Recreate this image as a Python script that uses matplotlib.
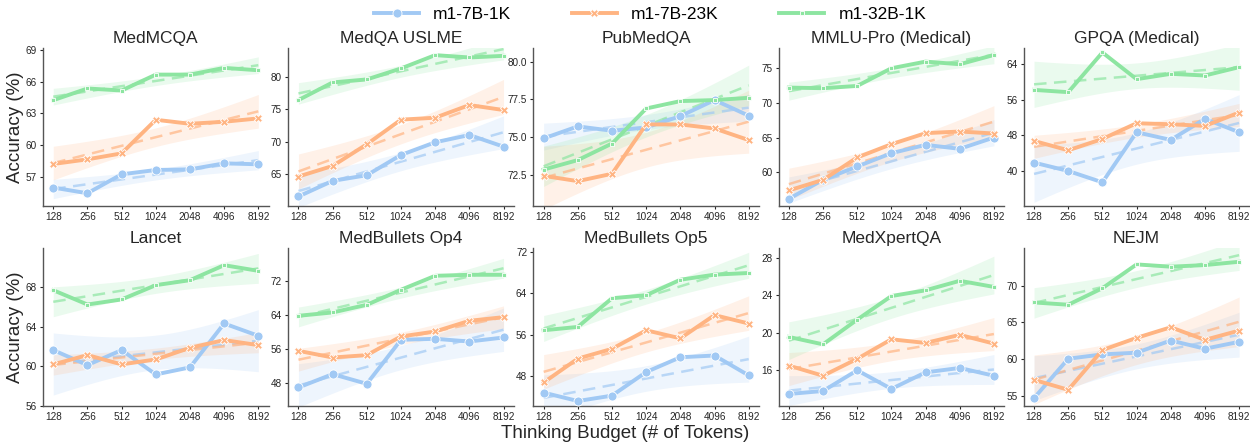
import matplotlib.pyplot as plt
import numpy as np

plt.rcParams['font.family'] = ['Liberation Sans', 'DejaVu Sans']

budgets = ['128', '256', '512', '1024', '2048', '4096', '8192']
models = ['m1-7B-1K', 'm1-7B-23K', 'm1-32B-1K']
colors = ['#a1c9f4', '#ffb482', '#8de5a1']
markers = ['o', 'X', 's']
marker_sizes = [6.5, 6, 3.5]

# accuracy per benchmark: one list per model (7B-1K, 7B-23K, 32B-1K)
medmcqa = [[55.96, 55.42, 57.22, 57.63, 57.69, 58.26, 58.17],
           [58.20, 58.64, 59.21, 62.40, 62.02, 62.21, 62.53],
           [64.26, 65.37, 65.18, 66.69, 66.69, 67.33, 67.10]]
medqa = [[61.58, 63.98, 64.85, 67.97, 69.92, 71.04, 69.25],
         [64.65, 66.28, 69.61, 73.40, 73.70, 75.65, 74.88],
         [76.42, 79.13, 79.59, 81.28, 83.33, 82.97, 83.22]]
pubmedqa = [[74.90, 75.70, 75.41, 75.63, 76.38, 77.45, 76.41],
            [72.41, 72.06, 72.55, 75.83, 75.83, 75.56, 74.79],
            [72.83, 73.46, 74.56, 76.89, 77.38, 77.45, 77.60]]
mmlu_pro = [[56.15, 58.89, 60.82, 62.74, 63.94, 63.37, 65.00],
            [57.36, 58.89, 62.12, 64.04, 65.63, 65.87, 65.58],
            [72.21, 72.12, 72.45, 75.00, 75.96, 75.58, 76.92]]
gpqa = [[41.80, 39.92, 37.36, 48.65, 46.92, 51.66, 48.65],
        [46.69, 44.58, 47.14, 50.68, 50.45, 50.08, 53.09],
        [58.20, 57.68, 66.63, 60.61, 61.82, 61.44, 63.32]]
lancet = [[61.63, 60.12, 61.63, 59.18, 59.89, 64.31, 63.07],
          [60.19, 61.13, 60.19, 60.69, 61.86, 62.64, 62.13],
          [67.66, 66.22, 66.73, 68.17, 68.67, 70.18, 69.61]]
medbullets4 = [[46.89, 50.05, 47.76, 58.18, 58.42, 57.78, 58.73],
               [55.57, 53.99, 54.55, 58.97, 60.15, 62.68, 63.55],
               [63.87, 64.66, 66.47, 70.03, 73.34, 73.58, 73.58]]
medbullets5 = [[44.88, 43.26, 44.30, 48.84, 51.69, 52.02, 48.19],
               [46.83, 51.43, 53.31, 56.88, 55.33, 59.80, 58.18],
               [56.88, 57.53, 63.05, 63.63, 66.61, 67.59, 67.91]]
medxpertqa = [[13.48, 13.80, 16.00, 14.02, 15.78, 16.25, 15.42],
              [16.50, 15.42, 17.22, 19.30, 18.91, 19.77, 18.84],
              [19.55, 18.76, 21.39, 23.90, 24.51, 25.52, 24.87]]
nejm = [[54.68, 60.04, 60.63, 60.86, 62.52, 61.40, 62.34],
        [57.16, 55.81, 61.22, 62.88, 64.32, 62.61, 63.87],
        [67.70, 67.39, 69.64, 72.88, 72.57, 72.79, 73.24]]

titles = ['MedMCQA', 'MedQA USLME', 'PubMedQA', 'MMLU-Pro (Medical)', 'GPQA (Medical)',
          'Lancet', 'MedBullets Op4', 'MedBullets Op5', 'MedXpertQA', 'NEJM']
datasets = [medmcqa, medqa, pubmedqa, mmlu_pro, gpqa,
            lancet, medbullets4, medbullets5, medxpertqa, nejm]
yticks = [[57, 60, 63, 66, 69], [65, 70, 75, 80], [72.5, 75.0, 77.5, 80.0],
          [60, 65, 70, 75], [40, 48, 56, 64], [56, 60, 64, 68],
          [48, 56, 64, 72], [48, 56, 64, 72], [16, 20, 24, 28], [55, 60, 65, 70]]
ylims = [(54.2, 69.2), (60.1, 84.4), (70.4, 80.9), (55.1, 77.9), (32.0, 67.6),
         (56.0, 71.9), (42.5, 79.9), (42.3, 72.7), (12.2, 29.0), (53.6, 75.1)]


def reg_band(x, y, t=2.571):
    slope, icpt = np.polyfit(x, y, 1)
    xs = np.linspace(x.min(), x.max(), 100)
    yhat = icpt + slope * xs
    resid = y - (icpt + slope * x)
    s = np.sqrt(np.sum(resid ** 2) / (len(x) - 2))
    se = s * np.sqrt(1 / len(x) + (xs - x.mean()) ** 2 / np.sum((x - x.mean()) ** 2))
    return xs, yhat, yhat - t * se, yhat + t * se


fig, axes = plt.subplots(2, 5, figsize=(12.5, 4.42), dpi=100)
fig.subplots_adjust(left=0.0344, right=0.9995, bottom=0.0814, top=0.891,
                    wspace=0.087, hspace=0.266)

x = np.arange(len(budgets))
for i, ax in enumerate(axes.flat):
    data = datasets[i]
    for j in range(3):
        y = np.array(data[j])
        xs, yhat, lo, hi = reg_band(x, y)
        ax.fill_between(xs, lo, hi, color=colors[j], alpha=0.18, lw=0, zorder=1)
        ax.plot(xs, yhat, color=colors[j], lw=1.8, ls=(0, (5, 3)), alpha=0.7, zorder=2)
        ax.plot(x, y, color=colors[j], lw=2.8, marker=markers[j], ms=marker_sizes[j],
                mec='white', mew=0.6, zorder=3, label=models[j] if i == 0 else None)
    ax.set_title(titles[i], fontsize=12.5, pad=4, color='#262626')
    ax.set_xticks(x)
    ax.set_xticklabels(budgets)
    ax.set_xlim(-0.3, 6.3)
    ax.set_yticks(yticks[i])
    if i == 2:
        ax.set_yticklabels([f'{v:.1f}' for v in yticks[i]])
    ax.set_ylim(ylims[i])
    ax.tick_params(labelsize=7.2, length=2.5, width=0.8, pad=2, colors='#262626')
    for side in ['top', 'right']:
        ax.spines[side].set_visible(False)
    for side in ['left', 'bottom']:
        ax.spines[side].set_color('#555555')
        ax.spines[side].set_linewidth(1.0)
    if i % 5 == 0:
        ax.set_ylabel('Accuracy (%)', fontsize=13.5, color='#262626', labelpad=1)

fig.supxlabel('Thinking Budget (# of Tokens)', fontsize=13.5, y=0.0, color='#262626')
fig.legend(loc='upper center', ncol=3, frameon=False, fontsize=12.5,
           bbox_to_anchor=(0.52, 1.02), columnspacing=3.5, handlelength=2.6)

fig.savefig('out.png', dpi=100)
